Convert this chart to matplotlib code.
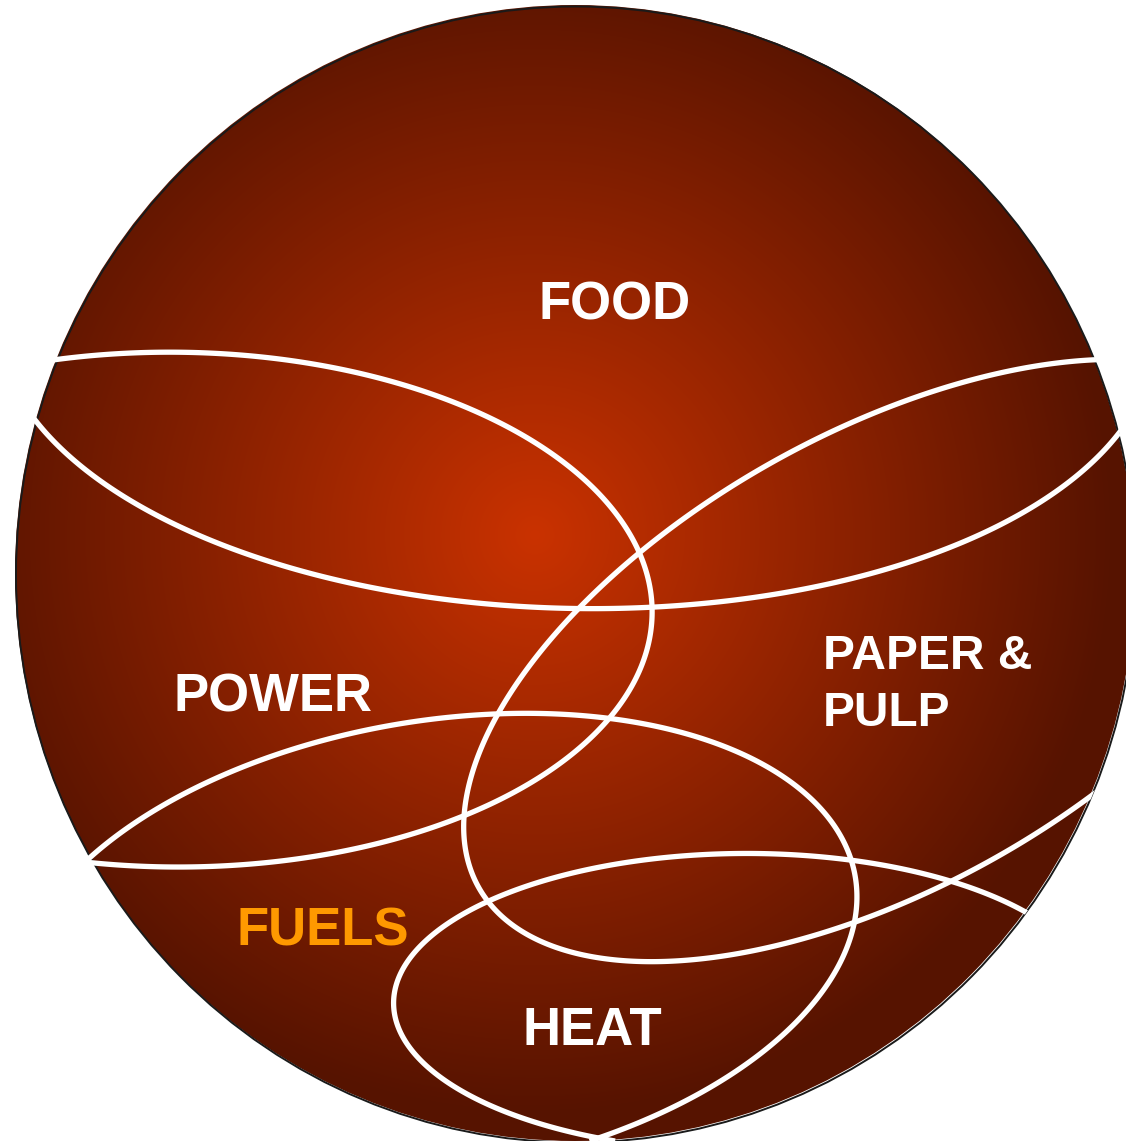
import numpy as np
import matplotlib.pyplot as plt
from matplotlib.patches import Ellipse

W, H = 1126, 1141

# sphere and its shading
sphere_c = (575, 573)
sphere_r = (560, 568)
glow_c = (535, 535)
glow_r = 580
col_in = np.array([202, 50, 0]) / 255
col_out = np.array([86, 19, 0]) / 255

# points (image pixels)
curve_food = [(55, 360), (175, 352), (300, 362), (437, 394), (531, 443), (612, 507),
              (638, 553), (650, 610), (647, 667), (607, 720), (553, 767), (497, 800),
              (380, 843), (175, 868), (90, 862)]
curve_top = [(36, 422), (82, 465), (122, 497), (184, 530), (245, 552), (327, 577),
             (408, 593), (490, 604), (575, 610), (650, 610), (690, 604), (772, 593),
             (853, 577), (935, 552), (996, 530), (1073, 477), (1100, 453), (1118, 437)]
curve_paper = [(1095, 360), (1050, 365), (1000, 372), (710, 500), (638, 553), (577, 610),
               (530, 667), (497, 717), (477, 760), (465, 800), (463, 833), (473, 873),
               (487, 900), (513, 927), (547, 943), (597, 957), (647, 963), (720, 960),
               (767, 945), (847, 923), (900, 903), (953, 880), (1000, 857), (1050, 827),
               (1093, 793)]
curve_power = [(90, 858), (123, 830), (173, 800), (420, 720), (497, 715), (530, 713),
               (607, 720), (700, 738), (767, 763), (817, 800), (843, 843), (853, 887),
               (853, 927), (840, 960), (813, 1000), (720, 1087), (663, 1113), (593, 1137)]
curve_heat = [(1027, 910), (993, 897), (950, 882), (900, 870), (847, 860), (767, 854),
              (720, 853), (647, 858), (580, 870), (530, 885), (487, 903), (447, 927),
              (413, 957), (395, 987), (393, 1007), (400, 1033), (420, 1063), (453, 1087),
              (507, 1110), (553, 1127), (590, 1137)]
curves = [curve_food, curve_top, curve_paper, curve_power, curve_heat]
curve_ymin = [0, 380, 0, 0, 0]  # only the lower arc of the top curve is shown

labels = ["FOOD", "POWER", "PAPER &", "PULP", "FUELS", "HEAT"]
label_xy = [(615, 320), (273, 712), (823, 669), (823, 726), (323, 945), (592, 1045)]
label_ha = ["center", "center", "left", "left", "center", "center"]
label_size = [38, 38, 34.5, 34.5, 38, 38]
label_col = ["white", "white", "white", "white", "#FF9900", "white"]


def conic(pts, X, Y, s=600.0):
    p = np.asarray(pts, float)
    u = (p[:, 0] - sphere_c[0]) / s
    v = (p[:, 1] - sphere_c[1]) / s
    M = np.column_stack([u * u, u * v, v * v, u, v, np.ones_like(u)])
    k = np.linalg.svd(M)[2][-1]
    U = (X - sphere_c[0]) / s
    V = (Y - sphere_c[1]) / s
    return k[0] * U * U + k[1] * U * V + k[2] * V * V + k[3] * U + k[4] * V + k[5]


fig = plt.figure(figsize=(W / 100, H / 100), dpi=100)
ax = fig.add_axes([0, 0, 1, 1])
ax.set_xlim(0, W)
ax.set_ylim(H, 0)
ax.axis("off")

yy, xx = np.mgrid[0:H, 0:W] + 0.5
t = np.clip(np.hypot(xx - glow_c[0], yy - glow_c[1]) / glow_r, 0, 1)
rgb = col_in[None, None, :] * (1 - t[..., None]) + col_out[None, None, :] * t[..., None]
img = ax.imshow(rgb, extent=(0, W, H, 0), origin="upper", zorder=1)
clip_in = Ellipse(sphere_c, 2 * sphere_r[0], 2 * sphere_r[1], transform=ax.transData)
img.set_clip_path(clip_in)

ax.add_patch(Ellipse((sphere_c[0] + 1, sphere_c[1] + 1.5), 2 * sphere_r[0], 2 * sphere_r[1],
                     fill=False, ec="#1a1a1a", lw=1.4, zorder=2))

gx, gy = np.meshgrid(np.arange(0, W + 1, 1.0), np.arange(0, H + 1, 1.0))
clip_out = Ellipse(sphere_c, 2 * sphere_r[0] + 4, 2 * sphere_r[1] + 4, transform=ax.transData)
for c, ymin in zip(curves, curve_ymin):
    F = np.ma.masked_where(gy < ymin, conic(c, gx, gy))
    cs = ax.contour(gx, gy, F, levels=[0], colors="white", linewidths=3.8, zorder=3)
    cs.set_clip_path(clip_out)

for txt, (x, y), ha, fs, col in zip(labels, label_xy, label_ha, label_size, label_col):
    ax.text(x, y, txt, ha=ha, va="baseline", color=col, fontsize=fs,
            fontweight="bold", family="Liberation Sans", zorder=4)

fig.savefig("out.png", dpi=100)
